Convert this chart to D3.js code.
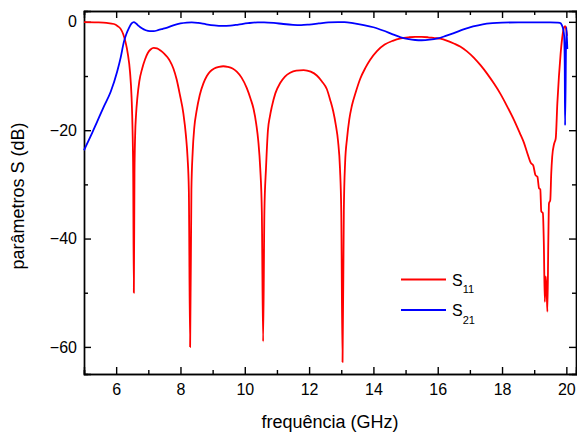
<!DOCTYPE html>
<html>
<head>
<meta charset="utf-8">
<script src="https://cdn.jsdelivr.net/npm/d3@7"></script>
<style>
    body { margin: 0; background: #fff; }
    svg text { font-family: "Liberation Sans", Arial, sans-serif; fill: #000; }
</style>
</head>
<body>
<svg id="mainsvg" width="577" height="435"></svg>
<script>
// S11 (GHz, dB)
let s11Freq = [5.00, 5.40, 5.70, 5.93, 6.05, 6.14, 6.22, 6.29, 6.36, 6.43, 6.48, 6.51, 6.53, 6.55, 6.57, 6.59, 6.62, 6.66, 6.72, 6.81,
    6.90, 6.98, 7.07, 7.17, 7.27, 7.38, 7.50, 7.59, 7.67, 7.78, 7.88, 7.98, 8.09, 8.17, 8.22, 8.26, 8.30, 8.34, 8.38, 8.43,
    8.50, 8.60, 8.71, 8.82, 8.92, 9.05, 9.20, 9.33, 9.47, 9.62, 9.75, 9.90, 10.06, 10.18, 10.27, 10.36, 10.42, 10.48, 10.53, 10.57,
    10.61, 10.66, 10.72, 10.78, 10.84, 10.95, 11.10, 11.25, 11.41, 11.60, 11.83, 12.05, 12.24, 12.40, 12.55, 12.66, 12.75, 12.83, 12.90, 12.96,
    13.00, 13.04, 13.08, 13.12, 13.18, 13.25, 13.33, 13.45, 13.59, 13.75, 13.90, 14.11, 14.35, 14.60, 14.85, 15.10, 15.30, 15.50, 15.70, 15.90,
    16.08, 16.30, 16.50, 16.71, 16.90, 17.12, 17.33, 17.54, 17.75, 17.95, 18.15, 18.37, 18.55, 18.68, 18.80, 18.89, 18.97, 19.04, 19.10, 19.15,
    19.19, 19.22, 19.27, 19.30, 19.33, 19.36, 19.39, 19.41, 19.44, 19.46, 19.50, 19.53, 19.56, 19.62, 19.67, 19.72, 19.77, 19.82, 19.87, 19.92,
    19.96, 19.99, 20.02];
let s11Db = [-0.05, -0.1, -0.2, -0.4, -0.8, -1.3, -2.3, -3.7, -5.8, -9.2, -14, -20, -28, -50, -28, -21, -17, -14, -11, -8.6,
    -6.9, -5.8, -5.1, -4.8, -4.9, -5.3, -5.9, -6.5, -7.2, -8.6, -10.6, -13.4, -16.9, -21, -25, -31, -60, -31, -24, -19.5,
    -16.5, -13.5, -11.4, -10, -9.2, -8.6, -8.3, -8.2, -8.3, -8.6, -9.2, -10.3, -12.2, -14.2, -16, -19, -22, -27, -35, -59,
    -35, -27, -20, -17.5, -15.7, -13.2, -11.3, -10.1, -9.4, -9.0, -8.9, -9.2, -9.9, -11, -12.4, -14.5, -16.5, -19, -22, -27,
    -35, -62.8, -35, -26, -21.5, -18, -15.5, -13, -10.5, -8.5, -7, -5.4, -4.2, -3.5, -3.05, -2.85, -2.77, -2.77, -2.85, -3.0,
    -3.1, -3.5, -4.0, -4.6, -5.4, -6.6, -8.0, -9.6, -11.4, -13.3, -15.5, -18.1, -20.5, -22.3, -24.5, -26, -26.5, -28.3, -28.6, -30.7,
    -30.9, -35, -35.3, -41, -51.7, -47, -50, -53.5, -40, -33.5, -32.9, -28, -24.9, -22.5, -21.5, -15, -10, -6, -3, -1.2,
    -0.8, -1.2, -2.6];

// S21
let s21Freq = [5.00, 5.20, 5.41, 5.62, 5.83, 6.03, 6.14, 6.24, 6.32, 6.40, 6.48, 6.55, 6.62, 6.70, 6.80, 6.92, 7.05, 7.17, 7.30, 7.45,
    7.59, 7.80, 8.00, 8.20, 8.35, 8.55, 8.80, 9.05, 9.30, 9.55, 9.80, 10.10, 10.40, 10.60, 10.90, 11.20, 11.50, 11.75, 12.00, 12.30,
    12.60, 12.90, 13.10, 13.40, 13.70, 14.00, 14.30, 14.60, 14.85, 15.10, 15.30, 15.50, 15.75, 16.00, 16.25, 16.50, 16.80, 17.10, 17.40, 17.70,
    18.00, 18.50, 19.00, 19.50, 19.72, 19.80, 19.86, 19.90, 19.93, 19.95, 19.96, 20.00, 20.03];
let s21Db = [-23.7, -21.2, -18.4, -15.6, -12.9, -9.2, -6.6, -3.7, -2.2, -1.1, -0.3, -0.05, -0.3, -0.75, -1.2, -1.55, -1.7, -1.7, -1.55, -1.3,
    -1.05, -0.6, -0.3, -0.15, -0.1, -0.2, -0.45, -0.65, -0.75, -0.7, -0.5, -0.25, -0.1, -0.1, -0.2, -0.4, -0.55, -0.6, -0.5, -0.3,
    -0.1, -0.05, -0.05, -0.3, -0.6, -1.0, -1.6, -2.3, -2.85, -3.2, -3.35, -3.4, -3.3, -3.05, -2.6, -2.1, -1.4, -0.85, -0.45, -0.25,
    -0.15, -0.1, -0.1, -0.1, -0.15, -0.2, -0.6, -1.3, -2.5, -8, -19.1, -1.0, -5.0];

let xTicks = [6, 8, 10, 12, 14, 16, 18, 20];
let xMinor = [5, 7, 9, 11, 13, 15, 17, 19];
let yTicks = [0, -20, -40, -60];
let yMinor = [-10, -30, -50];

let seriesNames = ["11", "21"];
let seriesColors = ["#ff0000", "#0000ff"];

let SParamChart = function () {
    let that = this;
    let svg = d3.select("#mainsvg");
    let left = 84, right = 576, top = 11, bottom = 374;
    let x = d3.scaleLinear().domain([5, 20.3]).range([left, right]);
    let y = d3.scaleLinear().domain([-65, 2]).range([bottom, top]);

    that.drawAxes = function () {
        // frame with inward ticks on all four sides
        let bot = svg.append("g").attr("transform", `translate(0,${bottom})`);
        bot.call(d3.axisBottom(x).tickValues(xTicks).tickSize(-7).tickPadding(10).tickFormat(d3.format("d")));
        bot.append("g").call(d3.axisBottom(x).tickValues(xMinor).tickSize(-4).tickFormat(""));
        let topAx = svg.append("g").attr("transform", `translate(0,${top})`);
        topAx.call(d3.axisTop(x).tickValues(xTicks).tickSize(-7).tickFormat(""));
        topAx.append("g").call(d3.axisTop(x).tickValues(xMinor).tickSize(-4).tickFormat(""));
        let lft = svg.append("g").attr("transform", `translate(${left},0)`);
        lft.call(d3.axisLeft(y).tickValues(yTicks).tickSize(-7).tickPadding(7).tickFormat(d3.format("d")));
        lft.append("g").call(d3.axisLeft(y).tickValues(yMinor).tickSize(-4).tickFormat(""));
        let rgt = svg.append("g").attr("transform", `translate(${right},0)`);
        rgt.call(d3.axisRight(y).tickValues(yTicks).tickSize(-7).tickFormat(""));
        rgt.append("g").call(d3.axisRight(y).tickValues(yMinor).tickSize(-4).tickFormat(""));

        svg.selectAll(".domain").attr("stroke", "#000").attr("stroke-width", 1.4);
        svg.selectAll(".tick line").attr("stroke", "#000").attr("stroke-width", 1.4);
        svg.selectAll(".tick text").attr("font-size", 16).attr("font-family", "Liberation Sans, Arial, sans-serif");

        svg.append("text")
            .attr("x", (left + right) / 2).attr("y", 428)
            .attr("text-anchor", "middle").attr("font-size", 18)
            .text("frequência (GHz)");
        svg.append("text")
            .attr("transform", "translate(24,196) rotate(-90)")
            .attr("text-anchor", "middle").attr("font-size", 18)
            .text("parâmetros S (dB)");
    };

    that.drawLines = function () {
        let line = d3.line().x(d => x(d[0])).y(d => y(d[1])).curve(d3.curveMonotoneX);
        let data = [d3.zip(s11Freq, s11Db), d3.zip(s21Freq, s21Db)];
        svg.append("g").selectAll("path").data(data).enter()
            .append("path")
            .attr("d", d => line(d))
            .attr("fill", "none")
            .attr("stroke", (d, i) => seriesColors[i])
            .attr("stroke-width", 1.8)
            .attr("stroke-linejoin", "round");
    };

    that.drawLegend = function () {
        let lg = svg.append("g");
        let rows = [279.5, 310];
        for (let i = 0; i < seriesNames.length; i++) {
            lg.append("line")
                .attr("x1", 401).attr("x2", 446)
                .attr("y1", rows[i]).attr("y2", rows[i])
                .attr("stroke", seriesColors[i]).attr("stroke-width", 1.8);
            let t = lg.append("text").attr("x", 452).attr("y", rows[i] + 6).attr("font-size", 16);
            t.append("tspan").text("S");
            t.append("tspan").attr("font-size", 11).attr("dy", 7.5).text(seriesNames[i]);
        }
    };

    that.init = function () {
        that.drawAxes();
        that.drawLines();
        that.drawLegend();
    }.call();
};

new SParamChart();
</script>
</body>
</html>
